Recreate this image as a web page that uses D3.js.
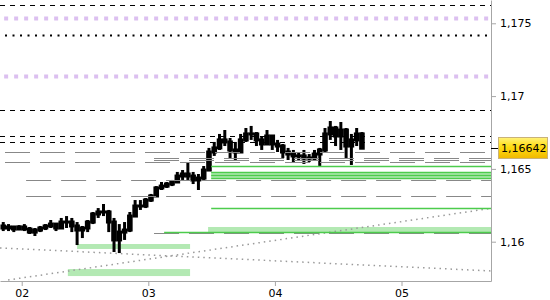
<!DOCTYPE html>
<html>
<head>
<meta charset="utf-8">
<script src="https://cdn.jsdelivr.net/npm/d3@7"></script>
<style>
  body { margin: 0; background: #fff; }
  svg { display: block; font-family: "DejaVu Sans", Verdana, sans-serif; font-size: 11px; }
</style>
</head>
<body>
<div id="chart"></div>
<script>
const t = (d, h, m = 0) => new Date(Date.UTC(2021, 10, d, h, m));

// hourly bars starting 01 20:00
const firstBar = t(1, 20);
const firstOpen = 1.16108;
const highs = [1.16135,1.16121,1.16108,1.16114,1.16121,1.16101,1.16094,1.16108,1.16121,1.16149,
  1.16121,1.16163,1.16176,1.16163,1.16135,1.16108,1.16149,1.16204,1.16231,1.16259,
  1.16218,1.16163,1.16121,1.16135,1.16204,1.16286,1.16286,1.16300,1.16328,1.16382,
  1.16410,1.16410,1.16424,1.16479,1.16492,1.16547,1.16479,1.16465,1.16520,1.16644,
  1.16685,1.16740,1.16767,1.16712,1.16685,1.16740,1.16781,1.16795,1.16753,1.16726,
  1.16767,1.16726,1.16699,1.16671,1.16644,1.16630,1.16616,1.16630,1.16602,1.16630,
  1.16644,1.16781,1.16829,1.16795,1.16822,1.16781,1.16740,1.16781,1.16753];
const lows = [1.16073,1.16073,1.16066,1.16080,1.16073,1.16053,1.16039,1.16066,1.16080,1.16094,
  1.16073,1.16094,1.16094,1.16066,1.15977,1.16025,1.16066,1.16121,1.16163,1.16176,
  1.16066,1.15929,1.15922,1.16012,1.16066,1.16176,1.16218,1.16231,1.16273,1.16314,
  1.16355,1.16369,1.16382,1.16410,1.16424,1.16424,1.16396,1.16355,1.16424,1.16492,
  1.16589,1.16630,1.16657,1.16575,1.16561,1.16630,1.16685,1.16699,1.16657,1.16630,
  1.16671,1.16630,1.16616,1.16575,1.16561,1.16547,1.16561,1.16534,1.16547,1.16561,
  1.16520,1.16616,1.16699,1.16657,1.16630,1.16575,1.16527,1.16657,1.16644];
const closes = [1.16094,1.16101,1.16087,1.16101,1.16087,1.16066,1.16080,1.16094,1.16108,1.16121,
  1.16094,1.16135,1.16135,1.16108,1.16080,1.16094,1.16135,1.16190,1.16204,1.16204,
  1.16135,1.16012,1.16066,1.16080,1.16176,1.16245,1.16245,1.16286,1.16314,1.16369,
  1.16382,1.16396,1.16410,1.16451,1.16465,1.16451,1.16424,1.16437,1.16492,1.16616,
  1.16644,1.16699,1.16685,1.16630,1.16616,1.16699,1.16740,1.16740,1.16699,1.16671,
  1.16726,1.16671,1.16657,1.16616,1.16602,1.16589,1.16589,1.16575,1.16575,1.16602,
  1.16630,1.16740,1.16781,1.16726,1.16767,1.16657,1.16699,1.16740,1.16642];
const lastPrice = 1.16642;

// levels
const blackDashed = [1.17626, 1.16905, 1.16726, 1.16685];
const lavenderDotted = [1.17539, 1.17138];
const blackDotted = [1.17422];
const grayLevels = [1.16616, 1.16547, 1.16575, 1.16561, 1.16424, 1.16314, 1.16060];
const grayFrom = [t(1,20,50), t(1,20,50), t(3,1,5), t(3,1,5), t(2,0,50), t(2,0,50), t(3,1,5)];
const greenLevels = [1.16520, 1.16477, 1.16456, 1.16435, 1.16229, 1.16064];
const greenFrom = [t(3,11,55), t(3,11,55), t(3,11,55), t(3,11,55), t(3,11,55), t(3,3,0)];

// zones
const zoneTop = [1.15984, 1.15812, 1.16101, 1.16477];
const zoneBottom = [1.15950, 1.15764, 1.16066, 1.16435];
const zoneFrom = [t(2,10,30), t(2,8,45), t(3,11,20), t(3,11,55)];
const zoneTo = [t(3,7,55), t(3,7,55), t(5,17,0), t(5,17,0)];

// trend lines
const trendFrom = [t(1,19,53), t(1,21,25)];
const trendFromPrice = [1.15957, 1.15737];
const trendTo = [t(5,16,58), t(5,16,58)];
const trendToPrice = [1.15799, 1.16229];

const yTicks = [1.16, 1.165, 1.17, 1.175];

const W = 550, H = 300, plotW = 491, plotH = 281;

const x = d3.scaleUtc().domain([t(1,19,53), t(5,16,58)]).range([0, plotW]);
const y = d3.scaleLinear().domain([1.15730, 1.17660]).range([plotH, 0]);

const svg = d3.select("#chart").append("svg").attr("width", W).attr("height", H);

const defs = svg.append("defs");
defs.append("clipPath").attr("id", "plot").append("rect").attr("width", plotW).attr("height", plotH);
const grad = defs.append("linearGradient").attr("id", "lbl").attr("x1", 0).attr("y1", 0).attr("x2", 0).attr("y2", 1);
grad.append("stop").attr("offset", 0).attr("stop-color", "#fff27a");
grad.append("stop").attr("offset", 0.45).attr("stop-color", "#ffdc10");
grad.append("stop").attr("offset", 1).attr("stop-color", "#f0b800");

const plot = svg.append("g").attr("clip-path", "url(#plot)");

// zones
plot.selectAll("rect.zone")
  .data(zoneTop.map((top, i) => ({top, bottom: zoneBottom[i], from: zoneFrom[i], to: zoneTo[i]})))
  .enter().append("rect").attr("class", "zone")
  .attr("x", d => x(d.from))
  .attr("width", d => x(d.to) - x(d.from))
  .attr("y", d => y(d.top))
  .attr("height", d => y(d.bottom) - y(d.top))
  .attr("fill", "#b3e9b3");

// trend lines
plot.selectAll("line.trend")
  .data(trendFrom.map((f, i) => ({f, fp: trendFromPrice[i], to: trendTo[i], tp: trendToPrice[i]})))
  .enter().append("line").attr("class", "trend")
  .attr("x1", d => x(d.f)).attr("y1", d => y(d.fp))
  .attr("x2", d => x(d.to)).attr("y2", d => y(d.tp))
  .attr("stroke", "#9a9a9a").attr("stroke-width", 1.5).attr("stroke-dasharray", "1.5,4");

// candles
const bars = closes.map((c, i) => ({
  time: d3.utcHour.offset(firstBar, i),
  open: i ? closes[i - 1] : firstOpen,
  high: highs[i], low: lows[i], close: c
}));
const bw = 5.6;
const candle = plot.selectAll("g.bar").data(bars).enter().append("g").attr("class", "bar")
  .attr("transform", d => `translate(${x(d3.utcMinute.offset(d.time, 30))},0)`);
candle.append("line")
  .attr("y1", d => y(d.high)).attr("y2", d => y(d.low))
  .attr("stroke", "#000").attr("stroke-width", 3);
candle.append("rect")
  .attr("x", -bw / 2).attr("width", bw)
  .attr("y", d => y(Math.max(d.open, d.close)) - 1.5)
  .attr("height", d => Math.abs(y(d.open) - y(d.close)) + 3)
  .attr("fill", "#000");

// horizontal levels
function levels(vals, froms, color, width, dash) {
  plot.append("g").selectAll("line")
    .data(vals.map((v, i) => ({v, from: froms ? froms[i] : null})))
    .enter().append("line")
    .attr("x1", d => d.from ? x(d.from) : 0).attr("x2", plotW)
    .attr("y1", d => Math.round(y(d.v)) + 0.5).attr("y2", d => Math.round(y(d.v)) + 0.5)
    .attr("stroke", color).attr("stroke-width", width)
    .attr("stroke-dasharray", dash);
}
levels(grayLevels, grayFrom, "#888", 1.2, "25,10");
levels(greenLevels, greenFrom, "#4ccc4c", 1.5, null);
levels(blackDashed, null, "#000", 1, "5,5");
levels(lavenderDotted, [t(1,20,40), t(1,20,40)], "#dcc0f0", 4, "4,6");
levels(blackDotted, [t(1,20,50)], "#000", 2, "2,5.5");

// axes
const yAxis = d3.axisRight(y).tickValues(yTicks).tickSize(5).tickSizeOuter(0).tickPadding(4)
  .tickFormat(d => String(d).replace(".", ","));
const gy = svg.append("g").attr("transform", `translate(${plotW},0)`).call(yAxis);
const xAxis = d3.axisBottom(x).ticks(d3.utcDay.every(1)).tickFormat(d3.utcFormat("%d"))
  .tickSize(5).tickSizeOuter(0).tickPadding(3);
const gx = svg.append("g").attr("transform", `translate(0,${plotH})`).call(xAxis);
[gx, gy].forEach(g => {
  g.attr("font-family", null).attr("font-size", null);
  g.selectAll("path, line").attr("stroke", "#a6a6a6");
  g.selectAll("text").attr("fill", "#000");
});

// last price label
const ly = y(lastPrice);
svg.append("line").attr("x1", plotW).attr("x2", plotW + 7)
  .attr("y1", Math.round(ly) + 0.5).attr("y2", Math.round(ly) + 0.5).attr("stroke", "#000");
svg.append("rect").attr("x", plotW + 7.5).attr("y", Math.round(ly) - 10.5)
  .attr("width", 49).attr("height", 21)
  .attr("fill", "url(#lbl)").attr("stroke", "#c9b27a");
svg.append("text").attr("x", plotW + 10).attr("y", Math.round(ly)).attr("dy", "0.35em")
  .text(String(lastPrice).replace(".", ","));
</script>
</body>
</html>
